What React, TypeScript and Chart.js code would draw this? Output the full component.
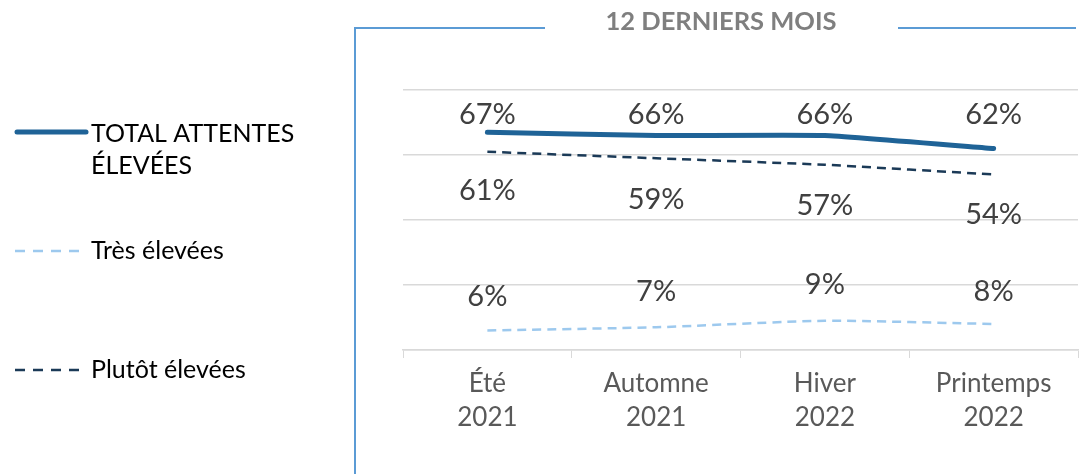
import React, { useEffect, useRef } from "react";
import { Chart, registerables } from "chart.js";

Chart.register(...registerables);

const categories: string[][] = [["Été", "2021"], ["Automne", "2021"], ["Hiver", "2022"], ["Printemps", "2022"]];
const totalValues = [67, 66, 66, 62];
const tresValues = [6, 7, 9, 8];
const plutotValues = [61, 59, 57, 54];
const seriesNames = ["TOTAL ATTENTES ÉLEVÉES", "Très élevées", "Plutôt élevées"];
const titleText = "12 DERNIERS MOIS";

const FONT = "Lato, 'Open Sans', sans-serif";
const C_TOTAL = "#1F6397";
const C_TRES = "#9DC9EE";
const C_PLUTOT = "#1B3A57";
const C_FRAME = "#5B9BD5";

// label offsets (px) relative to each point, per series
const labelOffsets = [
  [-18, -21, -21, -34],
  [-34, -36, -36, -32],
  [39, 41, 41, 40],
];

const decorPlugin = {
  id: "decor",
  afterDatasetsDraw(chart: any) {
    const ctx = chart.ctx;
    ctx.save();
    ctx.font = `29px ${FONT}`;
    ctx.fillStyle = "#404040";
    ctx.textAlign = "center";
    ctx.textBaseline = "middle";
    chart.data.datasets.forEach((ds: any, i: number) => {
      const meta = chart.getDatasetMeta(i);
      meta.data.forEach((pt: any, j: number) => {
        ctx.fillText(ds.data[j] + "%", pt.x, pt.y + labelOffsets[i][j]);
      });
    });
    ctx.restore();
  },
  afterDraw(chart: any) {
    const ctx = chart.ctx;
    ctx.save();
    ctx.strokeStyle = C_FRAME;
    ctx.lineWidth = 2;
    ctx.beginPath();
    ctx.moveTo(355, 474);
    ctx.lineTo(355, 28);
    ctx.lineTo(545, 28);
    ctx.moveTo(898, 28);
    ctx.lineTo(1076, 28);
    ctx.stroke();
    ctx.font = `bold 25.5px ${FONT}`;
    ctx.fillStyle = "#7F7F7F";
    ctx.textAlign = "center";
    ctx.textBaseline = "middle";
    ctx.fillText(titleText, 721, 22);
    ctx.lineCap = "round";
    ctx.strokeStyle = C_TOTAL;
    ctx.lineWidth = 5;
    ctx.setLineDash([]);
    ctx.beginPath();
    ctx.moveTo(17, 132);
    ctx.lineTo(86, 132);
    ctx.stroke();
    ctx.lineCap = "butt";
    ctx.lineWidth = 2.5;
    ctx.setLineDash([10, 8]);
    ctx.strokeStyle = C_TRES;
    ctx.beginPath();
    ctx.moveTo(15, 251);
    ctx.lineTo(84, 251);
    ctx.stroke();
    ctx.strokeStyle = C_PLUTOT;
    ctx.beginPath();
    ctx.moveTo(15, 370);
    ctx.lineTo(84, 370);
    ctx.stroke();
    ctx.setLineDash([]);
    ctx.font = `25px ${FONT}`;
    ctx.fillStyle = "#000000";
    ctx.textAlign = "left";
    ctx.textBaseline = "middle";
    ctx.fillText("TOTAL ATTENTES", 91, 134);
    ctx.fillText("ÉLEVÉES", 91, 166);
    ctx.fillText(seriesNames[1], 91, 251);
    ctx.fillText(seriesNames[2], 91, 370);
    ctx.restore();
  },
};

export default function App() {
  const ref = useRef<HTMLCanvasElement>(null);
  useEffect(() => {
    if (!ref.current) return;
    const chart = new Chart(ref.current, {
      type: "line",
      data: {
        labels: categories,
        datasets: [
          { label: seriesNames[0], data: totalValues, borderColor: C_TOTAL, borderWidth: 5, pointRadius: 0, tension: 0.1, borderCapStyle: "round" },
          { label: seriesNames[1], data: tresValues, borderColor: C_TRES, borderWidth: 2.5, borderDash: [9, 6], pointRadius: 0, tension: 0.2 },
          { label: seriesNames[2], data: plutotValues, borderColor: C_PLUTOT, borderWidth: 2.5, borderDash: [9, 6], pointRadius: 0, tension: 0.1 },
        ],
      },
      options: {
        responsive: false,
        animation: false,
        layout: { padding: { left: 403, right: 6, top: 90, bottom: 0 } },
        plugins: { legend: { display: false }, tooltip: { enabled: false }, title: { display: false } },
        scales: {
          x: {
            offset: true,
            grid: { display: true, drawOnChartArea: false, drawTicks: true, tickLength: 8, color: "#D9D9D9", offset: true },
            border: { display: true, color: "#D9D9D9", width: 1.5 },
            ticks: { color: "#595959", font: { family: FONT, size: 26, lineHeight: 1.3 }, padding: 9, maxRotation: 0, autoSkip: false },
            afterFit: (s: any) => { s.height = 124; },
          },
          y: {
            min: 0,
            max: 80,
            ticks: { display: false, stepSize: 20 },
            grid: { color: "#D9D9D9", lineWidth: 1.5, drawTicks: false },
            border: { display: false },
            afterFit: (s: any) => { s.width = 0; },
          },
        },
      },
      plugins: [decorPlugin],
    });
    return () => chart.destroy();
  }, []);
  return (
    <div style={{ position: "fixed", left: 0, top: 0, width: 1084, height: 474, background: "#fff" }}>
      <canvas ref={ref} width={1084} height={474} />
    </div>
  );
}
